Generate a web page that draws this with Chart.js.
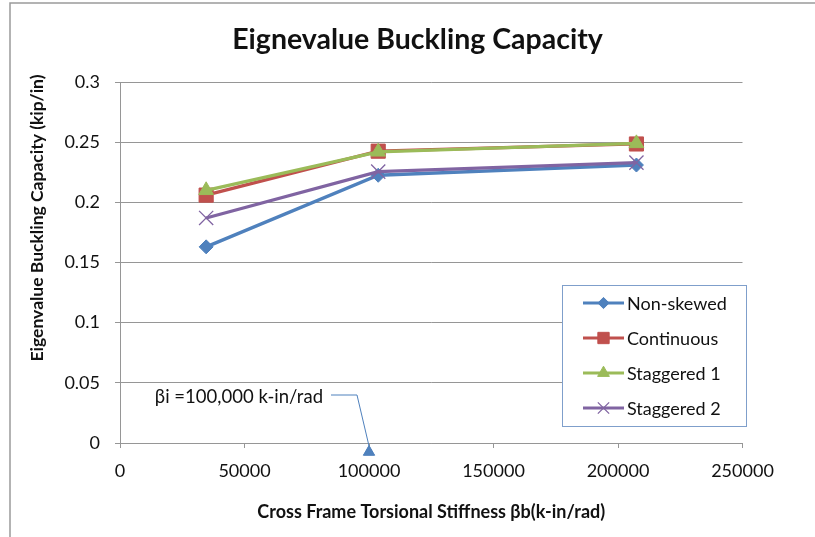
<!DOCTYPE html>
<html>
<head>
<meta charset="utf-8">
<script src="https://cdn.jsdelivr.net/npm/chart.js@4/dist/chart.umd.min.js"></script>
<style>
  html, body { margin: 0; padding: 0; background: #ffffff; }
  #wrap { width: 815px; height: 537px; position: relative; }
</style>
</head>
<body>
<div id="wrap"><canvas id="chart" width="815" height="537"></canvas></div>
<script>
// Cross frame torsional stiffness (k-in/rad)
const stiffness = [34600, 103700, 207400];

// Eigenvalue buckling capacity (kip/in) per bracing layout
const nonSkewed   = [0.163, 0.2225, 0.231];
const continuous  = [0.206, 0.2425, 0.2485];
const staggered1  = [0.210, 0.2420, 0.2490];
const staggered2  = [0.187, 0.2255, 0.2330];

const seriesNames = ['Non-skewed', 'Continuous', 'Staggered 1', 'Staggered 2'];

// Axis ranges and tick spacing
const xTickMax = 250000, xTickStep = 50000;
const yTickMax = 0.3, yTickStep = 0.05;

// Reference stiffness marked below the x axis
const betaI = 100000;
const betaILabel = 'βi =100,000 k-in/rad';

const chartTitle = 'Eignevalue Buckling Capacity';
const xTitle = 'Cross Frame Torsional Stiffness βb(k-in/rad)';
const yTitle = 'Eigenvalue Buckling Capacity (kip/in)';

const FONT = 'Lato, "Open Sans", "Liberation Sans", sans-serif';
const TEXT = '#111111';
const GRID = '#969696';

function pts(values) {
  return stiffness.map((x, i) => ({ x: x, y: values[i] }));
}

const styles = [
  { color: '#4F81BD', pointStyle: 'rectRot',  radius: 7,   borderWidth: 1 },
  { color: '#C0504D', pointStyle: 'rect',     radius: 10,  borderWidth: 1 },
  { color: '#9BBB59', pointStyle: 'triangle', radius: 8.5, borderWidth: 1 },
  { color: '#8064A2', pointStyle: 'crossRot', radius: 10,  borderWidth: 1.3 }
];
const seriesValues = [nonSkewed, continuous, staggered1, staggered2];

const datasets = seriesValues.map((vals, i) => ({
  label: seriesNames[i],
  data: pts(vals),
  borderColor: styles[i].color,
  backgroundColor: styles[i].color,
  borderWidth: 3.3,
  pointStyle: styles[i].pointStyle,
  pointRadius: styles[i].radius,
  pointHoverRadius: styles[i].radius,
  pointBorderWidth: styles[i].borderWidth,
  pointBackgroundColor: styles[i].color,
  pointBorderColor: styles[i].color,
  tension: 0,
  fill: false,
  // later series are painted over earlier ones
  order: seriesValues.length - i
}));

// Outer frame of the chart object and the chart title
const framePlugin = {
  id: 'frame',
  beforeDraw(chart) {
    const ctx = chart.ctx;
    ctx.save();
    ctx.fillStyle = '#ffffff';
    ctx.fillRect(0, 0, chart.width, chart.height);
    ctx.strokeStyle = '#9a9a9a';
    ctx.lineWidth = 1.5;
    ctx.beginPath();
    ctx.moveTo(10, chart.height + 5);
    ctx.lineTo(10, 3);
    ctx.lineTo(chart.width + 5, 3);
    ctx.stroke();
    ctx.font = 'bold 28.5px ' + FONT;
    ctx.fillStyle = TEXT;
    ctx.textAlign = 'center';
    ctx.textBaseline = 'middle';
    ctx.fillText(chartTitle, 417.5, 40);
    ctx.restore();
  }
};

// Rotated y-axis title
const yTitlePlugin = {
  id: 'yTitle',
  afterDraw(chart) {
    const ctx = chart.ctx;
    ctx.save();
    ctx.translate(37.5, 218);
    ctx.rotate(-Math.PI / 2);
    ctx.font = 'bold 17.5px ' + FONT;
    ctx.fillStyle = TEXT;
    ctx.textAlign = 'center';
    ctx.textBaseline = 'middle';
    ctx.fillText(yTitle, 0, 0);
    ctx.restore();
  }
};

// Callout marking the reference stiffness on the x axis
const betaPlugin = {
  id: 'betaCallout',
  afterDatasetsDraw(chart) {
    const ctx = chart.ctx;
    const xs = chart.scales.x, ys = chart.scales.y;
    const px = xs.getPixelForValue(betaI);
    const py0 = ys.getPixelForValue(0);
    const color = '#4F81BD';
    ctx.save();
    ctx.strokeStyle = color;
    ctx.lineWidth = 1;
    ctx.beginPath();
    ctx.moveTo(px - 38, py0 - 48);
    ctx.lineTo(px - 12, py0 - 48);
    ctx.lineTo(px, py0 + 3);
    ctx.stroke();
    ctx.fillStyle = color;
    Chart.helpers.drawPoint(ctx, {
      pointStyle: 'triangle', radius: 6.5, rotation: 0, borderWidth: 1
    }, px, py0 + 9);
    ctx.fill();
    ctx.font = '18.5px ' + FONT;
    ctx.fillStyle = TEXT;
    ctx.textAlign = 'right';
    ctx.textBaseline = 'middle';
    ctx.fillText(betaILabel, px - 46, py0 - 46);
    ctx.restore();
  }
};

// Boxed legend in the lower right of the plot
const legendPlugin = {
  id: 'boxLegend',
  afterDraw(chart) {
    const ctx = chart.ctx;
    const area = chart.chartArea;
    const boxW = 184, boxH = 141;
    const bx = area.right + 3.5 - boxW;
    const by = area.top + 203;
    ctx.save();
    ctx.fillStyle = '#ffffff';
    ctx.fillRect(bx, by, boxW, boxH);
    ctx.strokeStyle = '#7F9FCB';
    ctx.lineWidth = 1;
    ctx.strokeRect(Math.round(bx) + 0.5, Math.round(by) + 0.5, boxW, boxH);
    chart.data.datasets.forEach((ds, i) => {
      const y = by + 18 + i * 35;
      const x0 = bx + 21, x1 = bx + 62, xm = (x0 + x1) / 2;
      ctx.strokeStyle = ds.borderColor;
      ctx.lineWidth = 3;
      ctx.beginPath();
      ctx.moveTo(x0, y);
      ctx.lineTo(x1, y);
      ctx.stroke();
      ctx.fillStyle = ds.pointBackgroundColor;
      ctx.strokeStyle = ds.pointBorderColor;
      ctx.lineWidth = ds.pointBorderWidth;
      Chart.helpers.drawPoint(ctx, {
        pointStyle: ds.pointStyle,
        radius: ds.pointStyle === 'rect' ? 8 : ds.pointRadius * 0.8,
        rotation: 0,
        borderWidth: ds.pointBorderWidth
      }, xm, y);
      ctx.fillStyle = TEXT;
      ctx.font = '18px ' + FONT;
      ctx.textAlign = 'left';
      ctx.textBaseline = 'middle';
      ctx.fillText(ds.label, bx + 65, y + 1);
    });
    ctx.restore();
  }
};

new Chart(document.getElementById('chart'), {
  type: 'line',
  data: { datasets: datasets },
  options: {
    responsive: false,
    animation: false,
    events: [],
    layout: { padding: { left: 0, right: 72.5, top: 82, bottom: 0 } },
    plugins: {
      legend: { display: false },
      tooltip: { enabled: false },
      title: { display: false }
    },
    scales: {
      x: {
        type: 'linear',
        min: 0,
        max: xTickMax,
        afterFit(scale) { scale.height = 94; },
        ticks: {
          stepSize: xTickStep,
          color: TEXT,
          font: { family: FONT, size: 18 },
          padding: 12,
          maxRotation: 0,
          callback: v => String(v)
        },
        grid: { drawOnChartArea: false, drawTicks: true, tickLength: 5, color: GRID },
        border: { display: true, color: GRID, width: 1 },
        title: {
          display: true,
          text: xTitle,
          color: TEXT,
          font: { family: FONT, size: 18, weight: 'bold' },
          padding: { top: 0, bottom: 14 }
        }
      },
      y: {
        type: 'linear',
        min: 0,
        max: yTickMax,
        afterFit(scale) { scale.width = 120; },
        ticks: {
          stepSize: yTickStep,
          color: TEXT,
          font: { family: FONT, size: 18 },
          padding: 15,
          callback: v => String(parseFloat(Number(v).toFixed(2)))
        },
        grid: { drawOnChartArea: true, drawTicks: true, tickLength: 5, color: GRID },
        border: { display: true, color: GRID, width: 1 }
      }
    }
  },
  plugins: [framePlugin, yTitlePlugin, betaPlugin, legendPlugin]
});
</script>
</body>
</html>
